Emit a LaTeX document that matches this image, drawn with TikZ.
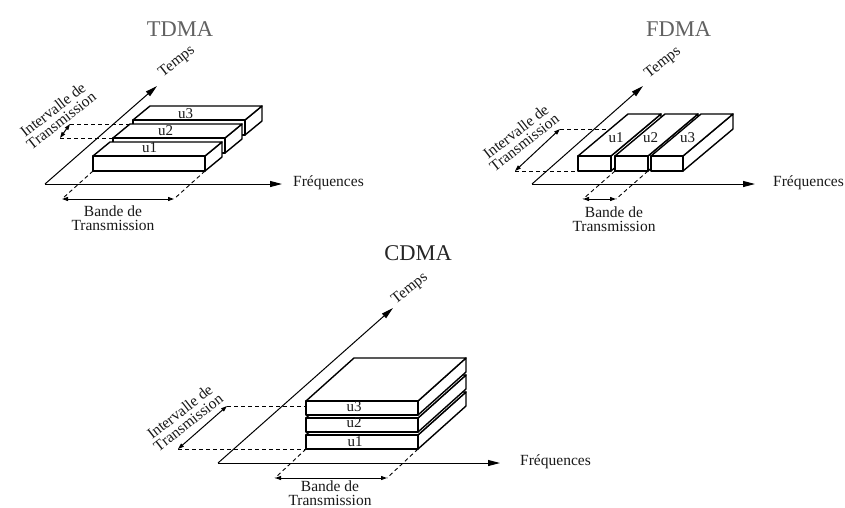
\documentclass[tikz,border=0pt]{standalone}
\usepackage{fontspec}
\setmainfont{Liberation Serif}
\usetikzlibrary{arrows.meta}

% corner points of a flat box: name, front-bottom-left, width, height, depth vector
\newcommand\slabpoints[5]{%
  \path #2 coordinate (#1-fbl) ++(#3,0) coordinate (#1-fbr);
  \path (#1-fbl) ++(0,-#4) coordinate (#1-ftl) ++(#5) coordinate (#1-btl);
  \path (#1-fbl) ++(#5) coordinate (#1-bbl);
}
% visible faces of the box: name, width, height, depth vector
\newcommand\slabfaces[4]{%
  \path[slab] (#1-fbr) -- ++(0,-#3) -- ++(#4) -- ++(0,#3) -- cycle;
  \path[slab] (#1-ftl) -- ++(#2,0) -- ++(#4) -- ++(-#2,0) -- cycle;
  \path[slab] (#1-fbl) rectangle ++(#2,-#3);
}

\begin{document}
\begin{tikzpicture}[x=1pt,y=-1pt,
  slab/.style={draw=black,fill=white,line width=1.4pt,line join=round},
  axis/.style={draw=black,line width=1pt,-{Triangle[length=12pt,width=6pt]}},
  guide/.style={draw=black,line width=0.9pt,dash pattern=on 4pt off 3pt},
  span/.style={draw=black,line width=1pt,
    {Triangle[length=6pt,width=4pt]}-{Triangle[length=6pt,width=4pt]}},
  lbl/.style={font=\fontsize{15.5}{13.5}\selectfont,inner sep=0pt,text=black!90},
  tag/.style={font=\fontsize{15}{15}\selectfont,inner sep=0pt,text=black!90},
  title/.style={font=\fontsize{22.5}{24}\selectfont,inner sep=0pt},
]
\fill[white] (0,0) rectangle (845,507);
\useasboundingbox (0,0) rectangle (845,507);
\clip (0,0) rectangle (845,507);

% ================= TDMA =================
\node[title,text=black!62] (ttitle) at (180,29.5) {TDMA};
\coordinate (tO) at (45,184);
\coordinate (tF) at (282,184);
\coordinate (tT) at (157,86);
\draw[axis] (tO) -- (tF);
\draw[axis] (tO) -- (tT);
\node[lbl,anchor=base west] (tfreq) at (293,186) {Fréquences};
\node[lbl,rotate=38] (ttemps) at (177,62) {Temps};

\slabpoints{t1}{(93,171)}{112}{15}{17,-14}
\slabpoints{t2}{(113,153)}{112}{15}{17,-14}
\slabpoints{t3}{(133,135)}{112}{15}{17,-14}

% transmission interval of u2
\coordinate (tia) at (60,138);
\coordinate (tib) at (70,124);
\draw[guide] (tia) -- (t2-ftl);
\draw[guide] (tib) -- (t2-btl);
\draw[span] (tia) -- (tib);
\node[lbl,rotate=38,align=center] (tint) at (57,115) {Intervalle de\\Transmission};

% transmission band of u1
\coordinate (tba) at (62,199);
\coordinate (tbb) at (174,199);
\draw[guide] (t1-fbl) -- (tba);
\draw[guide] (t1-fbr) -- (tbb);
\draw[span] (tba) -- (tbb);
\node[lbl,align=center] (tband) at (113,218) {Bande de\\Transmission};

\slabfaces{t3}{112}{15}{17,-14}
\slabfaces{t2}{112}{15}{17,-14}
\slabfaces{t1}{112}{15}{17,-14}
\node[tag] (tu1) at (149.5,148) {u1};
\node[tag] (tu2) at (165.5,131) {u2};
\node[tag] (tu3) at (185.5,113.5) {u3};

% ================= FDMA =================
\node[title,text=black!62] (ftitle) at (678.5,29) {FDMA};
\coordinate (fO) at (532,184);
\coordinate (fF) at (755,184);
\coordinate (fT) at (643,86);
\draw[axis] (fO) -- (fF);
\draw[axis] (fO) -- (fT);
\node[lbl,anchor=base west] (ffreq) at (773,186) {Fréquences};
\node[lbl,rotate=38] (ftemps) at (663,63) {Temps};

\slabpoints{f1}{(578,171)}{33}{15}{50,-42}
\slabpoints{f2}{(615,171)}{33}{15}{50,-42}
\slabpoints{f3}{(651,171)}{32}{15}{50,-42}

% transmission interval
\coordinate (fia) at (515,171);
\coordinate (fib) at (560,129);
\draw[guide] (fia) -- (f1-fbl);
\draw[guide] (fib) -- (f1-bbl);
\draw[span] (fia) -- (fib);
\node[lbl,rotate=38,align=center] (fint) at (520,137) {Intervalle de\\Transmission};

% transmission band of u2
\coordinate (fba) at (583,199);
\coordinate (fbb) at (616,199);
\draw[guide] (f2-fbl) -- (fba);
\draw[guide] (f2-fbr) -- (fbb);
\draw[span] (fba) -- (fbb);
\node[lbl,align=center] (fband) at (614,219) {Bande de\\Transmission};

\slabfaces{f1}{33}{15}{50,-42}
\slabfaces{f2}{33}{15}{50,-42}
\slabfaces{f3}{32}{15}{50,-42}
\node[tag] (fu1) at (616,138) {u1};
\node[tag] (fu2) at (650.5,138) {u2};
\node[tag] (fu3) at (687.5,138) {u3};

% ================= CDMA =================
\node[title,text=black!85] (ctitle) at (418,253) {CDMA};
\coordinate (cO) at (218,463);
\coordinate (cF) at (500,463);
\coordinate (cT) at (393,308);
\draw[axis] (cO) -- (cF);
\draw[axis] (cO) -- (cT);
\node[lbl,anchor=base west] (cfreq) at (520,465) {Fréquences};
\node[lbl,rotate=38] (ctemps) at (410,289) {Temps};

\slabpoints{c1}{(306,449)}{112}{14}{48,-43}
\slabpoints{c2}{(306,432)}{112}{14}{48,-43}
\slabpoints{c3}{(306,415)}{112}{14}{48,-43}

% transmission interval
\coordinate (cia) at (178,449);
\coordinate (cib) at (227,406);
\draw[guide] (cia) -- (c1-fbl);
\draw[guide] (cib) -- (c1-bbl);
\draw[span] (cia) -- (cib);
\node[lbl,rotate=38,align=center] (cint) at (184,417) {Intervalle de\\Transmission};

% transmission band
\coordinate (cba) at (275,478);
\coordinate (cbb) at (387,478);
\draw[guide] (c1-fbl) -- (cba);
\draw[guide] (c1-fbr) -- (cbb);
\draw[span] (cba) -- (cbb);
\node[lbl,align=center] (cband) at (330,493) {Bande de\\Transmission};

\slabfaces{c1}{112}{14}{48,-43}
\slabfaces{c2}{112}{14}{48,-43}
\slabfaces{c3}{112}{14}{48,-43}
\node[tag] (cu1) at (355,441.5) {u1};
\node[tag] (cu2) at (354,423) {u2};
\node[tag] (cu3) at (354,407) {u3};
\end{tikzpicture}
\end{document}
